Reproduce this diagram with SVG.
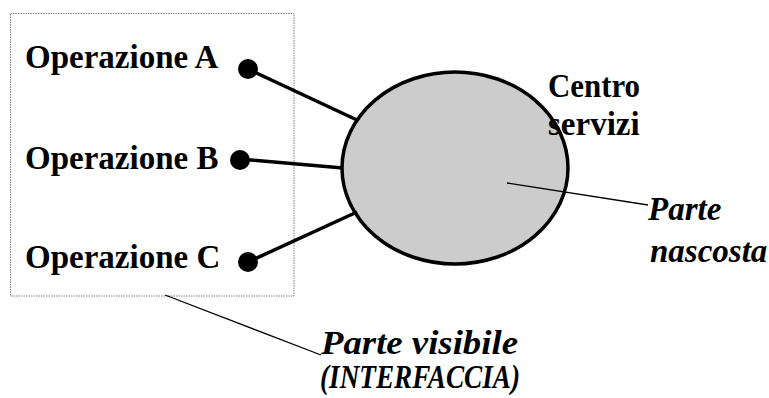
<svg xmlns="http://www.w3.org/2000/svg" width="769" height="398" viewBox="0 0 769 398">
<style>
.conn{stroke:#000;stroke-width:3.5;fill:none}
.lead{stroke:#000;stroke-width:1.3;fill:none}
.dot{fill:#000}
</style>
<rect width="769" height="398" fill="#fff"/>
<g id="interfaccia">
<rect x="10.5" y="13.5" width="283.5" height="282.5" fill="none" stroke="#808080" stroke-width="1" stroke-dasharray="1.5,1"/>
</g>
<g font-family="Liberation Serif" font-weight="bold" font-size="33" fill="#000">
<g id="centro">
<ellipse cx="455" cy="168" rx="113" ry="96" fill="#cccccc" stroke="#000" stroke-width="3.5"/>
<text x="548" y="97" textLength="92" lengthAdjust="spacingAndGlyphs">Centro</text>
<text x="548" y="135">servizi</text>
</g>
<g id="opA">
<text x="25" y="68">Operazione A</text>
<circle class="dot" cx="248" cy="69" r="10"/>
</g>
<g id="opB">
<text x="25" y="169">Operazione B</text>
<circle class="dot" cx="240" cy="160" r="10"/>
</g>
<g id="opC">
<text x="25" y="268">Operazione C</text>
<circle class="dot" cx="248" cy="262" r="10"/>
</g>
<g id="nascosta" font-style="italic">
<text x="648" y="220">Parte</text>
<text x="650" y="262">nascosta</text>
</g>
<g id="visibile" font-style="italic">
<text x="321" y="354" textLength="197" lengthAdjust="spacingAndGlyphs">Parte visibile</text>
<text x="320" y="388" textLength="200" lengthAdjust="spacingAndGlyphs">(INTERFACCIA)</text>
</g>
</g>
<g id="connectors">
<line class="conn" x1="248" y1="69" x2="357" y2="120"/>
<line class="conn" x1="240" y1="159" x2="343" y2="168"/>
<line class="conn" x1="248" y1="262" x2="357" y2="212"/>
<line class="lead" x1="507" y1="183" x2="648" y2="205"/>
<line class="lead" x1="165" y1="295" x2="321" y2="355"/>
</g>
</svg>
